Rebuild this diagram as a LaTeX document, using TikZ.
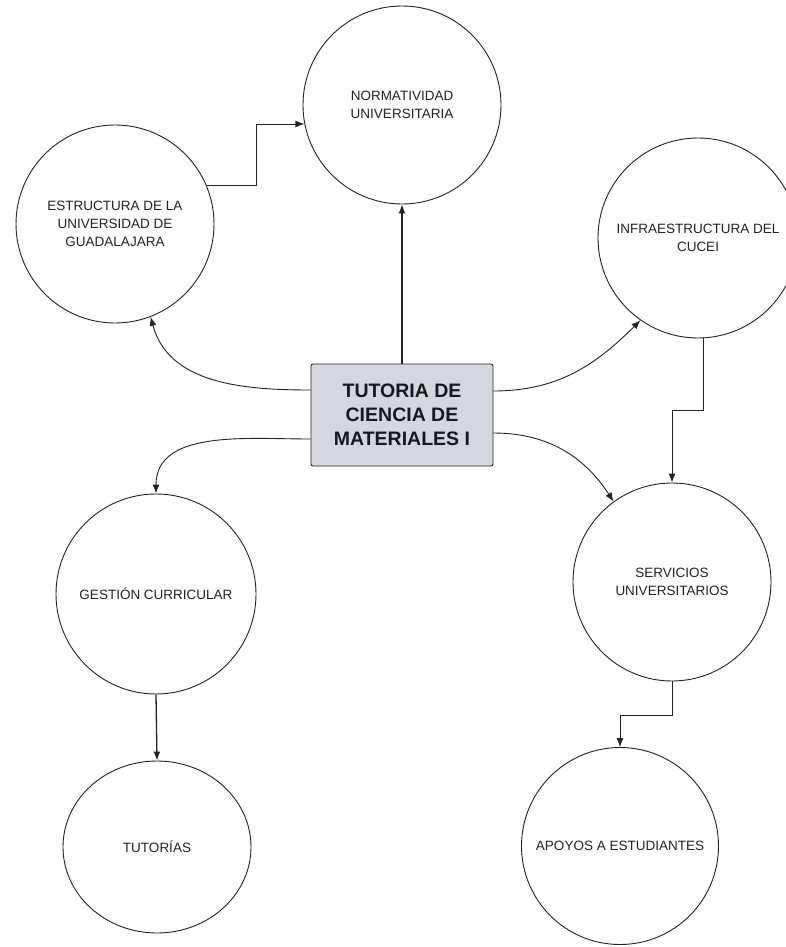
\documentclass[tikz,border=0pt]{standalone}
\usepackage{fontspec}
\setmainfont{Liberation Sans}
\usetikzlibrary{arrows.meta,shapes.geometric}
\definecolor{boxfill}{RGB}{214,214,222}
\definecolor{ink}{RGB}{35,35,35}
\begin{document}
\begin{tikzpicture}[x=1pt,y=-1pt,
  bubble/.style={circle,draw=ink,line width=0.9pt,minimum size=#1,inner sep=0pt,align=center,
    font=\fontsize{13.5}{18}\selectfont,text=ink},
  oval/.style={ellipse,draw=ink,line width=0.9pt,inner sep=0pt,align=center,
    font=\fontsize{13.5}{18}\selectfont,text=ink},
  mainbox/.style={rectangle,rounded corners=2pt,draw=ink,line width=0.9pt,fill=boxfill,
    minimum width=182pt,minimum height=102pt,inner sep=0pt,align=center,
    font=\fontsize{19.5}{24}\selectfont\bfseries,text=black!90},
  arr/.style={-{Latex[length=9pt,width=7pt]},draw=ink,line width=0.9pt},
  thickarr/.style={arr,line width=1.3pt}]
\useasboundingbox (0,0) rectangle (785,947);
\fill[white] (0,0) rectangle (785,947);

\node[bubble=198pt] (norm) at (402,105) {NORMATIVIDAD\\UNIVERSITARIA};
\node[bubble=198pt] (estr) at (115,224) {ESTRUCTURA DE LA\\UNIVERSIDAD DE\\GUADALAJARA};
\node[bubble=200pt] (infra) at (698,238) {INFRAESTRUCTURA DEL\\CUCEI};
\node[mainbox] (main) at (402,415) {TUTORIA DE\\CIENCIA DE\\MATERIALES I};
\node[bubble=200pt] (gest) at (156,594) {GESTIÓN CURRICULAR};
\node[bubble=198pt] (serv) at (672,582) {SERVICIOS\\UNIVERSITARIOS};
\node[oval,minimum width=188pt,minimum height=172pt] (tut) at (157,847) {TUTORÍAS};
\node[bubble=197pt] (apoy) at (620,846) {APOYOS A ESTUDIANTES};

\draw[arr] (estr.23) -- ++(50,0) |- (norm.191);
\draw[thickarr] (main.north) -- (norm.south);
\draw[arr] ([yshift=25pt]main.west) to[out=180,in=-75] (estr.-69);
\draw[arr] ([yshift=-24pt]main.west) to[out=180,in=90] (gest.north);
\draw[arr] ([yshift=24pt]main.east) to[out=0,in=-135] (infra.-125);
\draw[arr] ([yshift=-18pt]main.east) to[out=0,in=123] (serv.126);
\draw[arr] (infra.-87) -- ++(0,72) -| (serv.north);
\draw[arr] (serv.south) -- ++(0,34) -| (apoy.north);
\draw[thickarr] (gest.south) -- (tut.north);
\end{tikzpicture}
\end{document}
